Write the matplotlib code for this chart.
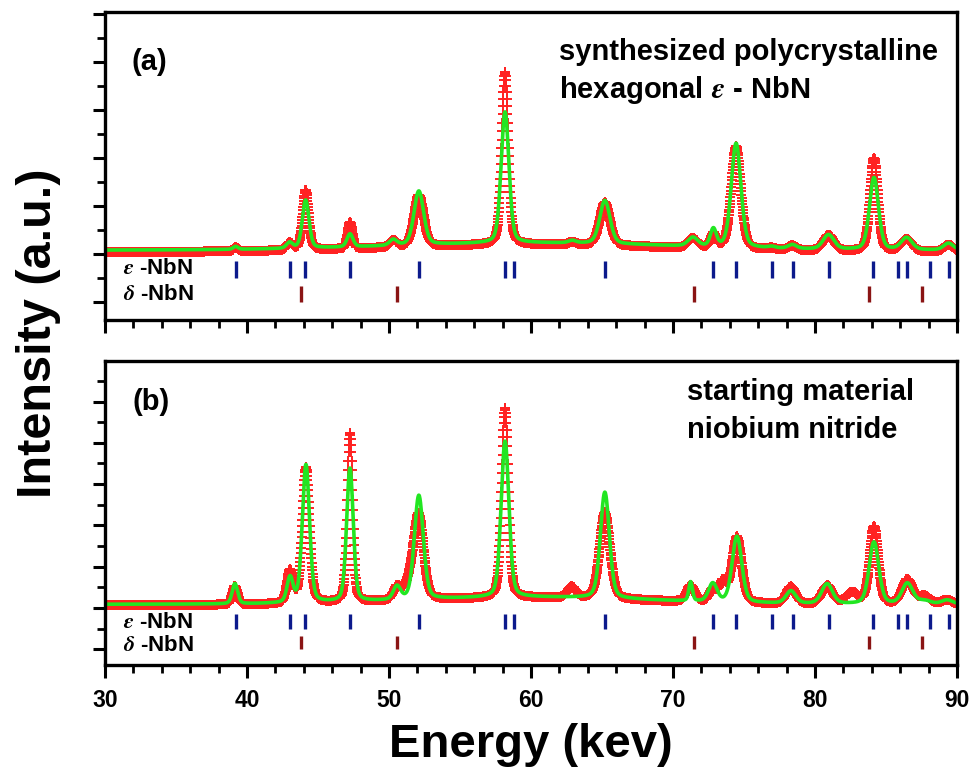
import numpy as np
import matplotlib
matplotlib.use("Agg")
import matplotlib.pyplot as plt
from matplotlib.ticker import MultipleLocator

plt.rcParams["font.family"] = ["Liberation Sans", "DejaVu Sans"]
plt.rcParams["font.weight"] = "bold"
plt.rcParams["mathtext.fontset"] = "stix"

# reflection markers (energy positions)
eps_ticks = [39.2, 43.0, 44.1, 47.25, 52.1, 58.17, 58.8, 65.2, 72.84, 74.44,
             76.95, 78.43, 81.0, 84.1, 85.86, 86.45, 88.1, 89.44]
delta_ticks = [43.78, 50.55, 71.45, 83.8, 87.55]

# panel (a): synthesized polycrystalline hexagonal e-NbN
a_pos = [39.2, 43.0, 44.13, 47.25, 50.3, 52.1, 58.17, 62.9, 65.2, 71.4,
         72.84, 74.44, 76.95, 78.4, 80.95, 84.15, 86.45, 89.4]
a_calc_h = [0.06, 0.12, 1.0, 0.27, 0.12, 1.12, 2.73, 0.05, 0.9, 0.18,
            0.36, 2.17, 0.03, 0.08, 0.3, 1.5, 0.25, 0.14]
a_obs_h = [0.08, 0.15, 1.25, 0.55, 0.15, 1.08, 3.6, 0.06, 0.9, 0.2,
           0.3, 2.15, 0.04, 0.1, 0.33, 1.95, 0.26, 0.15]
a_calc_w = [0.4, 0.5, 0.55, 0.5, 0.6, 0.8, 0.65, 0.6, 0.85, 0.8,
            0.5, 0.8, 0.6, 0.7, 0.9, 0.75, 0.9, 0.8]
a_obs_w = [0.4, 0.5, 0.5, 0.4, 0.6, 0.8, 0.55, 0.6, 0.85, 0.8,
           0.5, 0.8, 0.6, 0.7, 0.9, 0.65, 0.9, 0.8]
a_bg = (0.08, 0.15, 60.0, 14.0)   # level, hump height, hump centre, hump width
a_obs_shift = -0.04

# panel (b): starting material niobium nitride
b_pos = [39.15, 43.03, 44.15, 47.25, 50.56, 51.5, 52.1, 58.17, 62.86, 65.2,
         71.24, 72.8, 73.5, 74.5, 78.3, 80.85, 82.6, 84.15, 86.5, 87.7, 89.3]
b_calc_h = [0.49, 0.6, 3.34, 3.23, 0.32, 0.0, 2.52, 3.78, 0.0, 2.57,
            0.46, 0.44, 0.0, 1.6, 0.3, 0.48, 0.0, 1.5, 0.5, 0.08, 0.1]
b_obs_h = [0.45, 0.78, 3.3, 4.1, 0.3, 0.4, 1.95, 4.6, 0.27, 2.1,
           0.4, 0.3, 0.48, 1.6, 0.42, 0.45, 0.28, 1.9, 0.6, 0.2, 0.12]
b_calc_w = [0.45, 0.5, 0.6, 0.55, 0.6, 0.8, 0.75, 0.65, 0.7, 0.75,
            0.3, 0.7, 0.6, 0.8, 0.8, 0.9, 1.0, 0.8, 0.9, 1.0, 0.9]
b_obs_w = [0.45, 0.5, 0.6, 0.45, 0.6, 1.0, 0.8, 0.55, 0.7, 0.85,
           0.7, 0.6, 0.6, 0.8, 0.8, 0.9, 1.0, 0.7, 0.9, 1.0, 0.9]
b_bg = (0.09, 0.17, 60.0, 12.0)
b_obs_shift = -0.02

energy = np.arange(30.0, 90.0, 0.02)


def pseudo_voigt(x, pos, h, w, eta=0.3):
    g = np.exp(-4 * np.log(2) * ((x - pos) / w) ** 2)
    l = 1.0 / (1.0 + 4 * ((x - pos) / w) ** 2)
    return h * (eta * l + (1 - eta) * g)


def pattern(x, pos, heights, widths, bg, shift=0.0):
    level, hump, centre, width = bg
    y = level + hump * np.exp(-((x - centre) / width) ** 2) + shift
    for p, h, w in zip(pos, heights, widths):
        if h > 0:
            y = y + pseudo_voigt(x, p, h, w)
    return y


fig = plt.figure(figsize=(9.73, 7.67), dpi=100)
ax_a = fig.add_axes([0.1079, 0.5828, 0.8757, 0.4016])
ax_b = fig.add_axes([0.1079, 0.1330, 0.8757, 0.3963])

panels = [
    (ax_a, a_pos, a_calc_h, a_obs_h, a_calc_w, a_obs_w, a_bg, a_obs_shift, (-1.375, 5.04)),
    (ax_b, b_pos, b_calc_h, b_obs_h, b_calc_w, b_obs_w, b_bg, b_obs_shift, (-1.38, 5.98)),
]

for ax, pos, ch, oh, cw, ow, bg, shift, ylim in panels:
    obs = pattern(energy, pos, oh, ow, bg, shift)
    calc = pattern(energy, pos, ch, cw, bg)
    ax.plot(energy, obs, linestyle="none", marker="+", ms=7.5, mew=1.4, color="#ff2222")
    ax.plot(energy, calc, color="#22e622", lw=2.6)
    ax.vlines(eps_ticks, -0.5, -0.15, color="#0c1a8c", lw=2.4)
    ax.vlines(delta_ticks, -1.0, -0.67, color="#8a1414", lw=2.4)

    ax.set_xlim(30, 90)
    ax.set_ylim(*ylim)
    ax.xaxis.set_major_locator(MultipleLocator(10))
    ax.xaxis.set_minor_locator(MultipleLocator(2))
    ax.yaxis.set_major_locator(MultipleLocator(1))
    ax.yaxis.set_minor_locator(MultipleLocator(0.5))
    ax.tick_params(which="major", direction="out", length=9, width=2.2,
                   labelsize=16.5, pad=8)
    ax.tick_params(which="minor", direction="out", length=5.5, width=2.0)
    ax.tick_params(axis="y", labelleft=False)
    for s in ax.spines.values():
        s.set_linewidth(2.4)

ax_a.tick_params(axis="x", labelbottom=False)
for lab in ax_b.get_xticklabels():
    lab.set_fontweight("bold")

ax_a.text(31.9, 4.0, "(a)", fontsize=21, fontweight="bold", va="center")
ax_a.text(62.0, 4.21, "synthesized polycrystalline", fontsize=21, fontweight="bold", va="center")
ax_a.text(62.0, 3.42, r"hexagonal $\varepsilon$ - NbN", fontsize=21, fontweight="bold", va="center")
ax_a.text(31.27, -0.31, r"$\varepsilon$ -NbN", fontsize=16, fontweight="bold", va="center")
ax_a.text(31.27, -0.85, r"$\delta$ -NbN", fontsize=16, fontweight="bold", va="center")

ax_b.text(31.97, 4.99, "(b)", fontsize=21, fontweight="bold", va="center")
ax_b.text(70.96, 5.23, "starting material", fontsize=21, fontweight="bold", va="center")
ax_b.text(70.96, 4.31, "niobium nitride", fontsize=21, fontweight="bold", va="center")
ax_b.text(31.27, -0.36, r"$\varepsilon$ -NbN", fontsize=16, fontweight="bold", va="center")
ax_b.text(31.27, -0.9, r"$\delta$ -NbN", fontsize=16, fontweight="bold", va="center")

fig.text(0.5457, 0.013, "Energy (kev)", fontsize=34, fontweight="bold",
         ha="center", va="baseline")
fig.text(0.040, 0.565, "Intensity (a.u.)", fontsize=35, fontweight="bold",
         rotation=90, ha="center", va="center")

fig.savefig("out.png", dpi=100)
